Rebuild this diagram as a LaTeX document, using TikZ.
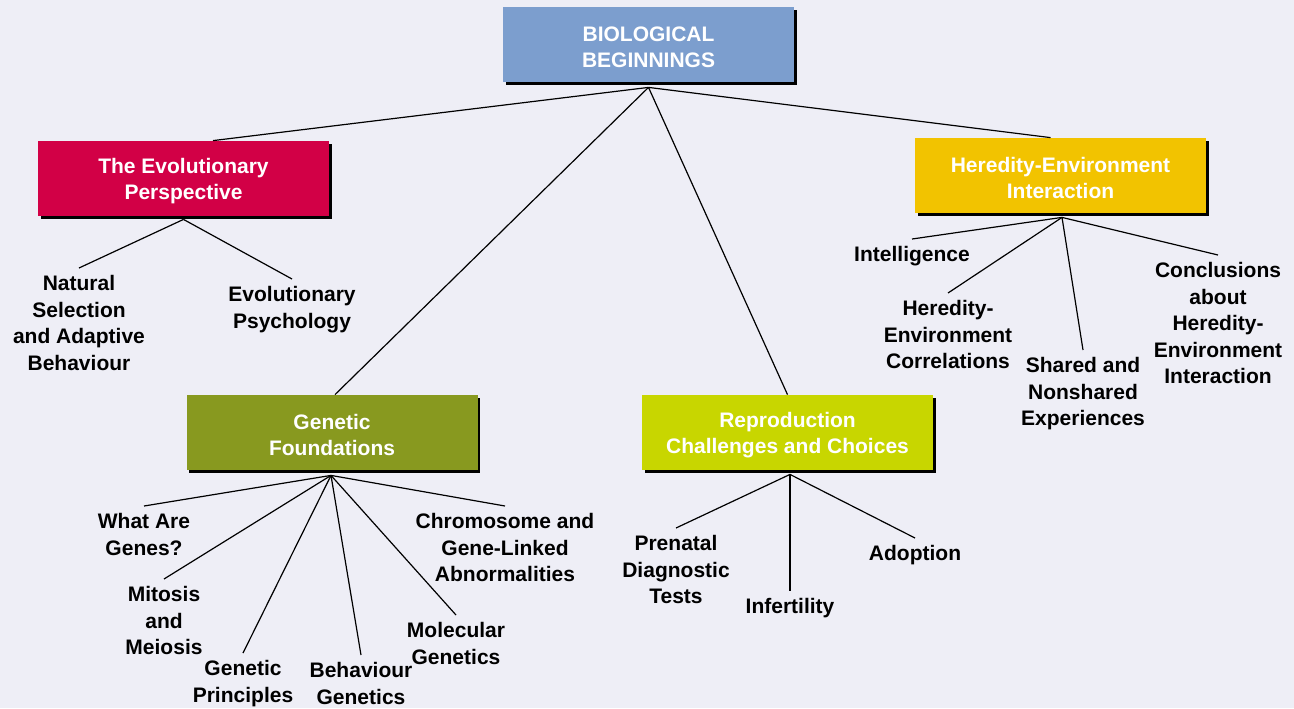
\documentclass[tikz,border=0pt]{standalone}
\usepackage{fontspec}
\setmainfont{Liberation Sans}
\usetikzlibrary{shadows, positioning}
\definecolor{bgcol}{HTML}{EEEEF6}
\definecolor{topblue}{HTML}{7C9ECE}
\definecolor{evored}{HTML}{D20046}
\definecolor{herecol}{HTML}{F2C300}
\definecolor{genecol}{HTML}{88991F}
\definecolor{reprocol}{HTML}{C8D600}

\begin{document}
\begin{tikzpicture}[
    x=0.5pt, y=-0.5pt,
    font=\fontsize{10.5}{13.25}\selectfont\bfseries,
    block/.style={rectangle, minimum width=145.5pt, minimum height=37.5pt, inner sep=0pt, text height=23.5pt, align=center, text=white, drop shadow={shadow xshift=1.4pt, shadow yshift=-1.5pt, opacity=1, fill=black}},
    leaf/.style={anchor=north, align=center, inner sep=3.5pt},
    line/.style={line width=0.6pt},
]
\fill[bgcol] (0,0) rectangle (1294,708);
\useasboundingbox (0,0) rectangle (1294,708);

% Main boxes
\node[block, fill=topblue] (bio) at (648.5,44.5) {BIOLOGICAL\\BEGINNINGS};
\node[block, fill=evored] (evo) at (183.5,178.5) {The Evolutionary\\Perspective};
\node[block, fill=herecol] (hered) at (1060.5,175.5) {Heredity-Environment\\Interaction};
\node[block, fill=genecol] (genet) at (332,432.5) {Genetic\\Foundations};
\node[block, fill=reprocol] (repro) at (787.5,432.5) {Reproduction\\Challenges and Choices};

% Sub-topics
\node[leaf] (natsel) at (79,268) {Natural\\Selection\\and Adaptive\\Behaviour};
\node[leaf] (evopsy) at (292,279) {Evolutionary\\Psychology};

\node[leaf] (intel) at (912,239) {Intelligence};
\node[leaf] (hecorr) at (948,293) {Heredity-\\Environment\\Correlations};
\node[leaf] (shared) at (1083,350) {Shared and\\Nonshared\\Experiences};
\node[leaf] (concl) at (1218,255) {Conclusions\\about\\Heredity-\\Environment\\Interaction};

\node[leaf] (whatgenes) at (144,506) {What Are\\Genes?};
\node[leaf] (mitosis) at (164,579) {Mitosis\\and\\Meiosis};
\node[leaf] (genprin) at (243,653) {Genetic\\Principles};
\node[leaf] (behgen) at (361,655) {Behaviour\\Genetics};
\node[leaf] (molgen) at (456,615) {Molecular\\Genetics};
\node[leaf] (chromo) at (505,506) {Chromosome and\\Gene-Linked\\Abnormalities};

\node[leaf] (prenatal) at (676,528) {Prenatal\\Diagnostic\\Tests};
\node[leaf] (infert) at (790,591) {Infertility};
\node[leaf] (adopt) at (915,538) {Adoption};

% Lines from the title
\coordinate (bioroot) at ([yshift=-2.5pt]bio.south);
\draw[line] (bioroot) -- ([xshift=14.75pt]evo.north);
\draw[line] (bioroot) -- ([xshift=-5pt]hered.north);
\draw[line] (bioroot) -- ([xshift=1.5pt]genet.north);
\draw[line] (bioroot) -- (repro.north);

% Lines to sub-topics
\coordinate (evoroot) at ([yshift=-1.5pt]evo.south);
\draw[line] (evoroot) -- (natsel.north);
\draw[line] (evoroot) -- (evopsy.north);

\coordinate (heredroot) at ([xshift=0.75pt, yshift=-2pt]hered.south);
\draw[line] (heredroot) -- (intel.north);
\draw[line] (heredroot) -- (hecorr.north);
\draw[line] (heredroot) -- (shared.north);
\draw[line] (heredroot) -- (concl.north);

\coordinate (genetroot) at ([xshift=-0.5pt, yshift=-2.5pt]genet.south);
\draw[line] (genetroot) -- (whatgenes.north);
\draw[line] (genetroot) -- (mitosis.north);
\draw[line] (genetroot) -- (genprin.north);
\draw[line] (genetroot) -- (behgen.north);
\draw[line] (genetroot) -- (molgen.north);
\draw[line] (genetroot) -- (chromo.north);

\coordinate (reproroot) at ([xshift=1.25pt, yshift=-2pt]repro.south);
\draw[line] (reproroot) -- (prenatal.north);
\draw[line] (reproroot) -- (infert.north);
\draw[line] (reproroot) -- (adopt.north);

\end{tikzpicture}
\end{document}
